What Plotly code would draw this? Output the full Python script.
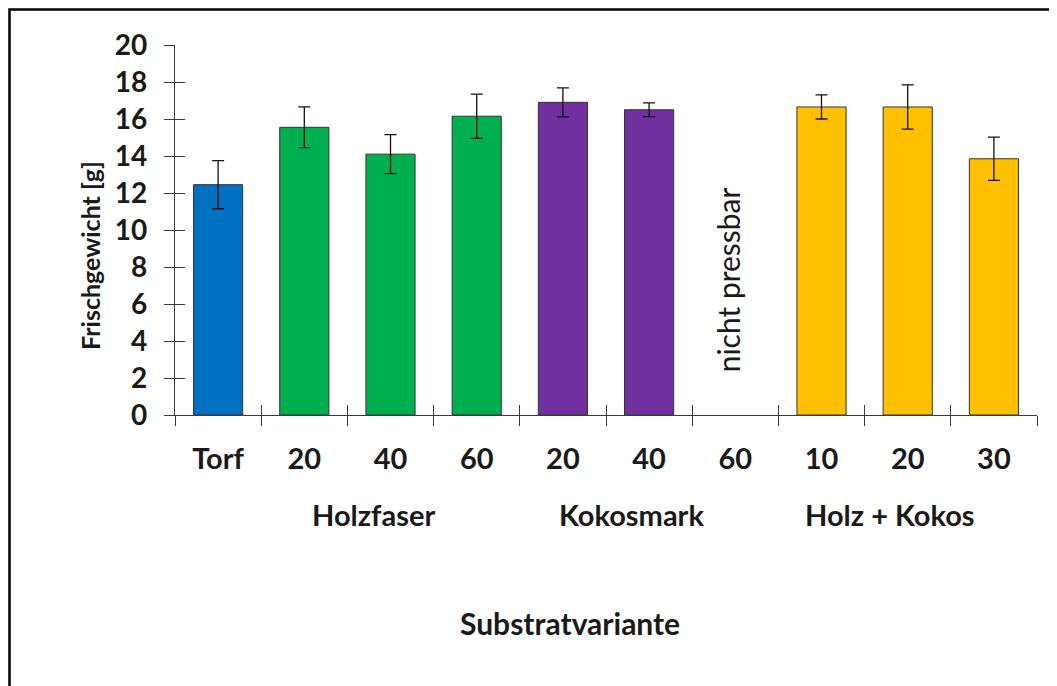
import plotly.graph_objects as go

# ---- data ----
tick_labels = ["Torf", "20", "40", "60", "20", "40", "60", "10", "20", "30"]
groups = ["Torf", "Holzfaser", "Holzfaser", "Holzfaser", "Kokosmark", "Kokosmark",
          "Kokosmark", "Holz + Kokos", "Holz + Kokos", "Holz + Kokos"]
means = [12.45, 15.55, 14.1, 16.15, 16.9, 16.5, None, 16.65, 16.65, 13.85]
errors = [1.3, 1.1, 1.05, 1.2, 0.78, 0.37, None, 0.65, 1.2, 1.17]
group_names = ["Holzfaser", "Kokosmark", "Holz + Kokos"]
missing_note = "nicht pressbar"
y_title = "Frischgewicht [g]"
x_title = "Substratvariante"

# ---- style ----
group_colors = {"Torf": "#0070C0", "Holzfaser": "#00B050",
                "Kokosmark": "#7030A0", "Holz + Kokos": "#FFC000"}
FONT = "Lato"
TXT = "#1a1a1a"
BODY = 8  # default page margin of the html body

n = len(tick_labels)
xs = list(range(n))
bounds = [i - 0.5 for i in range(n + 1)]

fig = go.Figure()
fig.add_trace(go.Bar(
    x=xs, y=means, width=0.57,
    marker=dict(color=[group_colors[g] for g in groups],
                line=dict(color="#333333", width=1)),
    error_y=dict(type="data", array=errors, visible=True,
                 color="#111111", thickness=1.3, width=6),
    xaxis="x", yaxis="y", showlegend=False, hoverinfo="skip",
))
# helper traces so the overlaid tick axes are drawn
fig.add_trace(go.Scatter(x=[None], y=[None], xaxis="x2", yaxis="y2",
                         mode="markers", showlegend=False, hoverinfo="skip"))
fig.add_trace(go.Scatter(x=[None], y=[None], xaxis="x3", yaxis="y",
                         mode="markers", showlegend=False, hoverinfo="skip"))

xr = [-0.5, n - 0.5]
yr = [0, 20]
axis_col = "#3a3a3a"
fig.update_layout(
    width=1057, height=686,
    margin=dict(l=175 - BODY, r=20 + BODY, t=45 - BODY, b=271 + BODY),
    paper_bgcolor="white", plot_bgcolor="white",
    font=dict(family=FONT, size=28, color=TXT),
    xaxis=dict(range=xr, tickvals=xs, ticktext=tick_labels, ticks="",
               showline=True, linecolor=axis_col, linewidth=1.3,
               showgrid=False, zeroline=False, fixedrange=True,
               tickfont=dict(family=FONT, size=29, color=TXT, weight="bold"),
               ticklabelstandoff=18),
    xaxis2=dict(range=xr, overlaying="x", anchor="y", tickvals=bounds,
                ticks="outside", ticklen=10, tickwidth=1.3, tickcolor=axis_col,
                showticklabels=False, showline=False, showgrid=False, zeroline=False),
    xaxis3=dict(range=xr, overlaying="x", anchor="y", tickvals=bounds,
                ticks="inside", ticklen=10, tickwidth=1.3, tickcolor=axis_col,
                showticklabels=False, showline=False, showgrid=False, zeroline=False),
    yaxis=dict(range=yr, tickvals=list(range(0, 21, 2)), ticks="outside",
               ticklen=10, tickwidth=1.3, tickcolor=axis_col,
               showline=True, linecolor=axis_col, linewidth=1.3,
               showgrid=False, zeroline=False, fixedrange=True,
               tickfont=dict(family=FONT, size=28, color=TXT, weight="bold"),
               ticklabelstandoff=11),
    yaxis2=dict(range=yr, overlaying="y", anchor="x", tickvals=list(range(0, 21, 2)),
                ticks="inside", ticklen=10, tickwidth=1.3, tickcolor=axis_col,
                showticklabels=False, showline=False, showgrid=False, zeroline=False),
)

# group labels (second category level)
group_centers = {}
for i, g in enumerate(groups):
    group_centers.setdefault(g, []).append(i)
for g in group_names:
    c = sum(group_centers[g]) / len(group_centers[g]) - 0.2
    fig.add_annotation(x=c, xref="x", y=-0.27, yref="paper", text=g,
                       showarrow=False, xanchor="center", yanchor="middle",
                       font=dict(family=FONT, size=29, color=TXT, weight="bold"))

# missing value note
miss_idx = means.index(None)
fig.add_annotation(x=miss_idx - 0.08, xref="x", y=7.3, yref="y", text=missing_note,
                   textangle=-90, showarrow=False, xanchor="center", yanchor="middle",
                   font=dict(family=FONT, size=30, color=TXT))

# axis titles
fig.add_annotation(x=-0.0986, xref="paper", y=0.43, yref="paper", text=y_title,
                   textangle=-90, showarrow=False, xanchor="center", yanchor="middle",
                   font=dict(family=FONT, size=25, color=TXT, weight="bold"))
fig.add_annotation(x=0.458, xref="paper", y=-0.562, yref="paper", text=x_title,
                   showarrow=False, xanchor="center", yanchor="middle",
                   font=dict(family=FONT, size=30, color=TXT, weight="bold"))

# outer frame (partly cut off at right/bottom as in the reference)
fig.add_shape(type="rect", xref="paper", yref="paper",
              x0=-0.192, x1=1.2, y0=-0.9, y1=1.096,
              line=dict(color="black", width=2.5), fillcolor="rgba(0,0,0,0)",
              layer="below")

fig.write_html("out.html")
